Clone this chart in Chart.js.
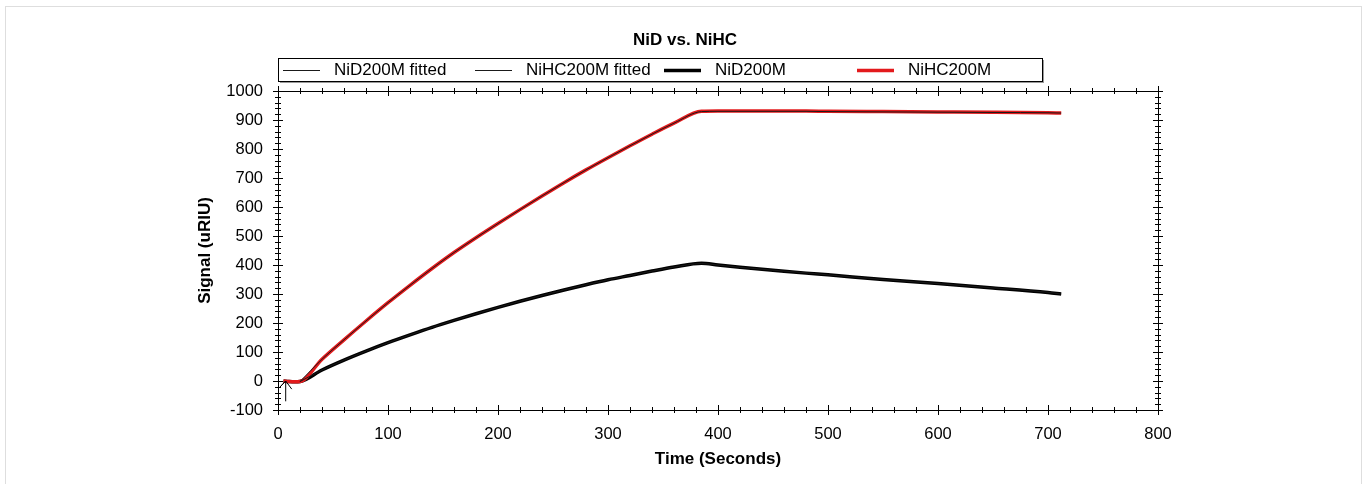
<!DOCTYPE html>
<html>
<head>
<meta charset="utf-8">
<script src="https://cdn.jsdelivr.net/npm/chart.js@4.4.0/dist/chart.umd.min.js"></script>
<style>
html, body { margin: 0; padding: 0; background: #fff; }
#wrap { position: relative; width: 1368px; height: 484px; overflow: hidden; }
#frame { position: absolute; left: 5px; top: 6px; width: 1357px; height: 520px; border: 1px solid #dedede; box-sizing: border-box; pointer-events: none; }
</style>
</head>
<body>
<div id="wrap"><canvas id="myChart" width="1368" height="484"></canvas><div id="frame"></div></div>
<script>
// measured sensorgram (seconds / uRIU)
var sampleTime  = [5, 10, 15, 20, 40, 60, 80, 100, 120, 140, 160, 180, 200, 220, 240, 260, 280, 300, 320, 340, 360, 385, 400, 420, 450, 480, 500, 550, 600, 650, 700, 712];
var nidSignal   = [0, -2, -3, -2, 38, 72, 103, 132, 159, 185, 209, 232, 254, 275, 295, 314, 332, 349, 364, 379, 393, 406, 400, 392, 382, 372, 366, 350, 336, 321, 305, 300];
var nihcSignal  = [0, -2, -3, -2, 75, 142, 207, 270, 330, 388, 443, 494, 543, 591, 638, 684, 728, 770, 811, 851, 889, 930, 931, 931, 931, 931, 930, 929, 928, 927, 925, 924];

// fitted curves
var fitTime = [20, 40, 60, 80, 100, 120, 140, 160, 180, 200, 220, 240, 260, 280, 300, 320, 340, 360, 385, 400, 420, 450, 480, 500, 550, 600, 650, 700, 712];
var nidFit  = [-2, 38, 72, 103, 132, 159, 185, 209, 232, 254, 275, 295, 314, 332, 349, 364, 379, 393, 405, 400, 392, 382, 373, 366, 350, 336, 321, 306, 300];
var nihcFit = [-2, 75, 142, 207, 270, 330, 388, 443, 494, 543, 591, 638, 684, 728, 770, 811, 851, 889, 929, 930, 930, 930, 930, 929, 928, 927, 926, 925, 924];

// injection marker arrow
var arrowX = [7, 7, 1.5, 7, 12.5];
var arrowY = [-70, 0, -22, 0, -28];

var chartTitle = 'NiD vs. NiHC';
var seriesLabels = ['NiD200M fitted', 'NiHC200M fitted', 'NiD200M', 'NiHC200M'];
var xTicks = { min: 0, max: 800, step: 100, minor: 20 };
var yTicks = { min: -100, max: 1000, step: 100, minor: 20 };

function toPoints(xs, ys) {
    return xs.map(function (v, i) { return { x: v, y: ys[i] }; });
}

var axisFrame = {
    id: 'axisFrame',
    afterDraw: function (chart) {
        var ctx = chart.ctx, a = chart.chartArea, x = chart.scales.x, y = chart.scales.y;
        ctx.save();
        ctx.strokeStyle = '#000';
        ctx.lineWidth = 1;
        ctx.strokeRect(Math.round(a.left) + 0.5, Math.round(a.top) + 0.5, Math.round(a.right - a.left), Math.round(a.bottom - a.top));
        ctx.beginPath();
        for (var t = xTicks.min; t <= xTicks.max; t += xTicks.minor) {
            var px = Math.round(x.getPixelForValue(t)) + 0.5;
            var len = (t % xTicks.step === 0) ? 5 : 3;
            ctx.moveTo(px, a.bottom - len); ctx.lineTo(px, a.bottom + len);
            ctx.moveTo(px, a.top - len); ctx.lineTo(px, a.top + len);
        }
        for (var v = yTicks.min; v <= yTicks.max; v += yTicks.minor) {
            var py = Math.round(y.getPixelForValue(v)) + 0.5;
            var l2 = (v % yTicks.step === 0) ? 5 : 3;
            ctx.moveTo(a.left - l2, py); ctx.lineTo(a.left + l2, py);
            ctx.moveTo(a.right - l2, py); ctx.lineTo(a.right + l2, py);
        }
        ctx.stroke();
        ctx.restore();
    }
};

// title + boxed legend like the original plot software
var boxLegend = {
    id: 'boxLegend',
    afterDraw: function (chart) {
        var ctx = chart.ctx;
        var box = { left: 278, top: 58, right: 1042, bottom: 81 };
        var itemX = [283, 475, 664, 857];
        ctx.save();
        ctx.fillStyle = '#000';
        ctx.font = 'bold 17px "Liberation Sans", Arial, sans-serif';
        ctx.textAlign = 'center';
        ctx.textBaseline = 'middle';
        ctx.fillText(chartTitle, 685, 40);

        ctx.fillStyle = '#9a9a9a';
        ctx.fillRect(box.left + 2, box.bottom, box.right - box.left, 2);
        ctx.fillRect(box.right, box.top + 2, 2, box.bottom - box.top);
        ctx.fillStyle = '#fff';
        ctx.fillRect(box.left, box.top, box.right - box.left, box.bottom - box.top);
        ctx.strokeStyle = '#000';
        ctx.lineWidth = 1;
        ctx.strokeRect(box.left + 0.5, box.top + 0.5, box.right - box.left, box.bottom - box.top);
        var cy = (box.top + box.bottom) / 2 + 1;
        ctx.font = '17px "Liberation Sans", Arial, sans-serif';
        ctx.textAlign = 'left';
        for (var i = 0; i < 4; i++) {
            var ds = chart.data.datasets[i];
            ctx.beginPath();
            ctx.strokeStyle = ds.borderColor;
            ctx.lineWidth = ds.borderWidth;
            ctx.moveTo(itemX[i], cy); ctx.lineTo(itemX[i] + 37, cy);
            ctx.stroke();
            ctx.fillStyle = '#000';
            ctx.fillText(ds.label, itemX[i] + 51, cy);
        }
        ctx.restore();
    }
};

Chart.defaults.font.family = '"Liberation Sans", Arial, sans-serif';
Chart.defaults.color = '#000';

window.onload = function () {
    var myChart = new Chart(document.getElementById('myChart'), {
        type: 'scatter',
        data: {
            datasets: [{
                label: seriesLabels[0],
                data: toPoints(fitTime, nidFit),
                showLine: true,
                borderColor: '#1a1a1a',
                borderWidth: 1,
                pointRadius: 0,
                cubicInterpolationMode: 'monotone',
                order: 0
            }, {
                label: seriesLabels[1],
                data: toPoints(fitTime, nihcFit),
                showLine: true,
                borderColor: '#1a1a1a',
                borderWidth: 1,
                pointRadius: 0,
                cubicInterpolationMode: 'monotone',
                order: 0
            }, {
                label: seriesLabels[2],
                data: toPoints(sampleTime, nidSignal),
                showLine: true,
                borderColor: '#000',
                borderWidth: 3.5,
                pointRadius: 0,
                cubicInterpolationMode: 'monotone',
                order: 2
            }, {
                label: seriesLabels[3],
                data: toPoints(sampleTime, nihcSignal),
                showLine: true,
                borderColor: '#e31a1c',
                borderWidth: 3.5,
                pointRadius: 0,
                cubicInterpolationMode: 'monotone',
                order: 1
            }, {
                label: 'arrow',
                data: toPoints(arrowX, arrowY),
                showLine: true,
                borderColor: '#000',
                borderWidth: 1,
                pointRadius: 0,
                order: 0
            }]
        },
        options: {
            responsive: false,
            animation: false,
            events: [],
            layout: { padding: { left: 195, right: 210, top: 91, bottom: 12 } },
            plugins: {
                legend: { display: false },
                tooltip: { enabled: false },
                title: { display: false }
            },
            scales: {
                x: {
                    type: 'linear',
                    min: xTicks.min,
                    max: xTicks.max,
                    afterFit: function (scale) { scale.height = 62; },
                    ticks: { stepSize: xTicks.step, font: { size: 16.5 }, padding: 15, maxRotation: 0,
                        callback: function (value) { return String(value); } },
                    grid: { display: false, drawTicks: false },
                    border: { display: false },
                    title: { display: true, text: 'Time (Seconds)', font: { size: 17, weight: 'bold' }, padding: { top: 0, bottom: 2 } }
                },
                y: {
                    min: yTicks.min,
                    max: yTicks.max,
                    afterFit: function (scale) { scale.width = 83; },
                    ticks: { stepSize: yTicks.step, font: { size: 16.5 }, padding: 15,
                        callback: function (value) { return String(value); } },
                    grid: { display: false, drawTicks: false },
                    border: { display: false },
                    title: { display: true, text: 'Signal (uRIU)', font: { size: 17, weight: 'bold' }, padding: { top: 0, bottom: 0 } }
                }
            }
        },
        plugins: [axisFrame, boxLegend]
    });
};
</script>
</body>
</html>
